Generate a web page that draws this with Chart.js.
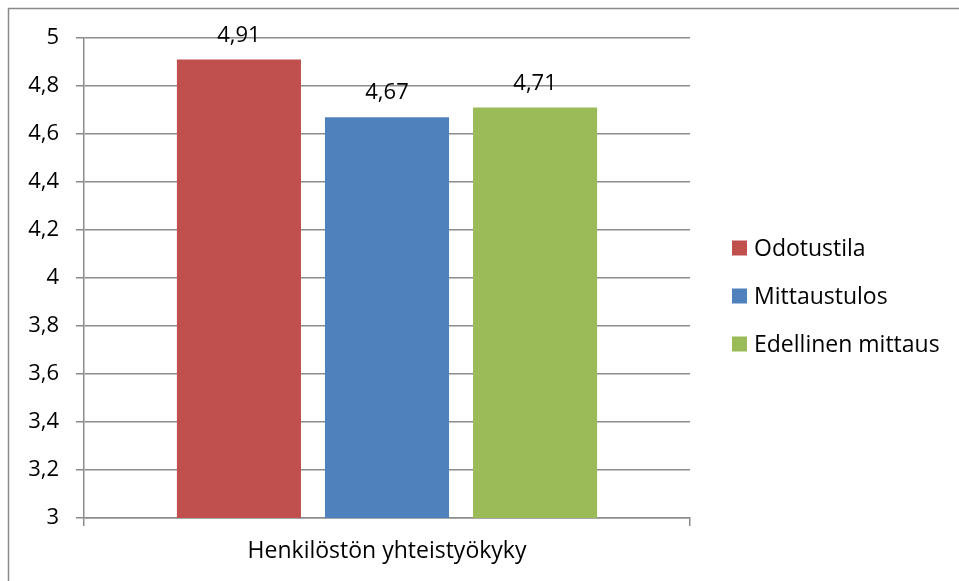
<!DOCTYPE html>
<html>
<head>
<meta charset="utf-8">
<script src="https://cdn.jsdelivr.net/npm/chart.js@4/dist/chart.umd.min.js"></script>
<style>
  html, body { margin: 0; padding: 0; background: #fff; }
  #wrap { width: 959px; height: 581px; position: relative; }
</style>
</head>
<body>
<div id="wrap"><canvas id="chart-main" width="959" height="581"></canvas></div>
<script>
// data
const kategoriat = ["Henkilöstön yhteistyökyky"];
const sarjat = ["Odotustila", "Mittaustulos", "Edellinen mittaus"];
const arvot = [[4.91], [4.67], [4.71]];
const varit = ["#C0504D", "#4F81BD", "#9BBB59"];
const yTicks = [3, 3.2, 3.4, 3.6, 3.8, 4, 4.2, 4.4, 4.6, 4.8, 5];

const fontFamily = "'Open Sans', 'Noto Sans', sans-serif";
const gridColor = "#8c8c8c";

function pilkku(v) {
  return String(Math.round(v * 100) / 100).replace(".", ",");
}

// outer frame (only top and left are inside the picture)
const kehys = {
  id: "kehys",
  beforeDraw(chart) {
    const { ctx } = chart;
    ctx.save();
    ctx.fillStyle = "#fff";
    ctx.fillRect(0, 0, chart.width, chart.height);
    ctx.strokeStyle = "#8a8a8a";
    ctx.lineWidth = 1.5;
    ctx.beginPath();
    ctx.moveTo(8.5, chart.height);
    ctx.lineTo(8.5, 8.5);
    ctx.lineTo(chart.width, 8.5);
    ctx.stroke();
    ctx.restore();
  },
};

// value labels above the bars
const arvoLabelit = {
  id: "arvoLabelit",
  afterDatasetsDraw(chart) {
    const { ctx } = chart;
    ctx.save();
    ctx.font = "22px " + fontFamily;
    ctx.fillStyle = "#000";
    ctx.textAlign = "center";
    ctx.textBaseline = "alphabetic";
    chart.data.datasets.forEach((ds, i) => {
      chart.getDatasetMeta(i).data.forEach((bar, j) => {
        ctx.fillText(pilkku(ds.data[j]), bar.x, bar.y - 18);
      });
    });
    ctx.restore();
  },
};

// legend on the right, Excel style
const selite = {
  id: "selite",
  afterDraw(chart) {
    const { ctx } = chart;
    ctx.save();
    ctx.font = "23px " + fontFamily;
    ctx.textBaseline = "middle";
    ctx.textAlign = "left";
    chart.data.datasets.forEach((ds, i) => {
      const cy = 248 + i * 48;
      ctx.fillStyle = ds.backgroundColor;
      ctx.fillRect(732, cy - 7.5, 15, 15);
      ctx.fillStyle = "#000";
      ctx.fillText(ds.label, 754, cy + 1);
    });
    ctx.restore();
  },
};

const ctx = document.querySelector("#chart-main").getContext("2d");
const myChart = new Chart(ctx, {
  type: "bar",
  data: {
    labels: kategoriat,
    datasets: sarjat.map((nimi, i) => ({
      label: nimi,
      data: arvot[i],
      backgroundColor: varit[i],
      borderWidth: 0,
      categoryPercentage: 0.733,
      barPercentage: 0.838,
    })),
  },
  options: {
    responsive: false,
    animation: false,
    layout: { padding: { top: 38, right: 269, left: 0, bottom: 0 } },
    scales: {
      y: {
        min: 3,
        max: 5,
        afterFit: (scale) => { scale.width = 84; },
        afterBuildTicks: (scale) => { scale.ticks = yTicks.map((v) => ({ value: v })); },
        ticks: {
          callback: (v) => pilkku(v),
          color: "#000",
          padding: 17,
          font: { family: fontFamily, size: 22 },
        },
        grid: { color: gridColor, lineWidth: 1.5, tickLength: 8 },
        border: { color: gridColor, width: 1.5 },
      },
      x: {
        afterFit: (scale) => { scale.height = 63; },
        ticks: {
          color: "#000",
          padding: 12,
          font: { family: fontFamily, size: 23 },
        },
        grid: { drawOnChartArea: false, color: gridColor, lineWidth: 1.5, tickLength: 8 },
        border: { color: gridColor, width: 1.5 },
      },
    },
    plugins: {
      legend: { display: false },
      tooltip: { enabled: false },
    },
  },
  plugins: [kehys, arvoLabelit, selite],
});
</script>
</body>
</html>
